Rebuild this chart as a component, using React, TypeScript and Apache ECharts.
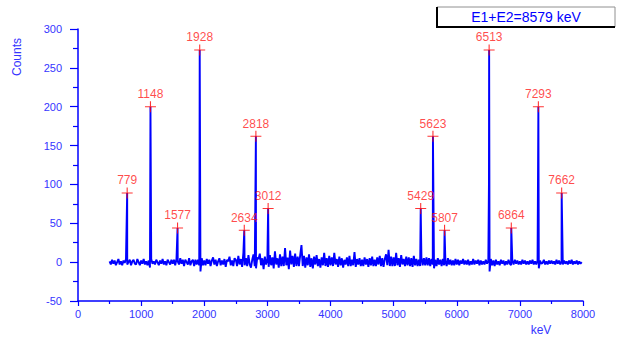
import React, { useEffect, useRef } from "react";
import * as echarts from "echarts";

// Spectrum baseline (noise), sampled every 20 keV starting at 500 keV
const noiseStart = 500;
const noiseStep = 20;
const noiseLow = [
  1, -3, 3, -2, 2, -4, 0, 4, -3, 1, -4, 2, -1, 4, -3, 0, 3, -4, 1, 3, -2, -3, 4, 0, -4,
  2, -2, 4, -3, 1, -4, 2, -7, 4, -2, 1, -3, 3, 0, -4, 2, -2, 4, -3, 1, -4, 3, 0, -3, 3,
  -2, 3, -4, 4, 1, -3, 5, -2, 3, -5, 3, 0, -3, 5, -4, 1, 3, -5, 3, -3, 3, -4, -12, 5, -4,
  2, -4, 4, -2, 3, -5, 2, 6, -3, 3, -5, 1, 5, -4, 2, -3, 4, -6, 3, 1, 7, -4, 2, -5, 5,
  3, -5, 8, -3, 4, -6, 12, -4, 5, -5, 9, -3, -7, 3, 10, -5, -8, 6, 4, 11, -4, 5, -9, 7, -3,
];
const noiseMid = [
  4, -6, 9, -4, 6, -8, 14, -3, 5, -7, 10, -5, 7, -5, 18, -4, 6, -9, 15, -3, 8, -6, 11, -5, 7,
  -5, 9, 22, -5, 8, -7, 6, -4, 10, -6, 5, -8, 7, -3, 9, -5, 4, -7, 6, -4, 12, -5, 5, -6, 8,
  -4, 6, -5, 12, -3, 4, -6, 7, -4, 5, -7, 3, -3, 6, -5, 8, -5, 3, -4, 13, -6, 4, -3, 5, -5,
  3, -5, 6, -3, 4, -6, 5, -4, 7, -5, 3, -5, 6, -3, 8, -5, 5, -6, 4, 10, -4, 16, -5, 7, -5,
  6, -5, 12, -4, 5, -6, 9, -3, 4, -5, 7, -4, 6, -5, 5, -6, 8, -4, 4, -5, 3, -5, 6, -4, 5,
];
const noiseHigh = [
  -4, 6, -4, 5, -5, 4, -3, -8, 3, -5, 5, -3, 3, -5, 4, -4, 2, -5, 5, -3, 3, -4, 2, -4, 4,
  -3, 3, -4, 2, -2, 4, -3, 2, -3, 3, -4, 1, -3, 4, -3, 2, -2, 3, -4, 2, -3, 1, -3, 3, -2,
  2, -12, 4, -4, 2, -5, 3, -3, 1, -4, 3, -2, 2, -4, 1, -3, 3, -2, -4, 2, -3, 3, -2, 2, -3,
  1, -3, 3, -2, 2, -3, 1, -3, 2, -2, 3, -3, 1, -3, 2, -8, 2, -2, -1, 3, -3, 1, -3, 2, -2,
  2, -2, 1, -3, 3, -2, 2, -3, 1, -3, 2, -2, 1, -3, 2, -2, 3, -3, 1, -2, 2, -3, 1, -2, 0,
];

// Labelled peaks
const peakEnergies = [779, 1148, 1577, 1928, 2634, 2818, 3012, 5429, 5623, 5807, 6513, 6864, 7293, 7662];
const peakCounts = [89, 200, 44, 273, 41, 162, 69, 69, 162, 41, 273, 44, 200, 89];

// Shoulders next to the two strongest peaks
const shoulderEnergies = [1925, 6510];
const shoulderCounts = [100, 100];

const yTicks = { min: -50, max: 300, interval: 50 };
const xTicks = { min: 0, max: 8000, interval: 1000 };

const legendText = "E1+E2=8579 keV";
const yName = "Counts";
const xName = "keV";

export default function App() {
  const ref = useRef<HTMLDivElement>(null);
  useEffect(() => {
    document.body.style.margin = "0";
    if (!ref.current) return;
    const chart = echarts.init(ref.current, undefined, { renderer: "svg" });
    const noise = [...noiseLow, ...noiseMid, ...noiseHigh];
    const base = noise.map((v, i) => [noiseStart + i * noiseStep, v]);
    const spikes = peakEnergies.map((e, i) => [e, peakCounts[i]]);
    const shoulders = shoulderEnergies.map((e, i) => [e, shoulderCounts[i]]);
    const spectrum = [...base, ...spikes, ...shoulders].sort((a, b) => a[0] - b[0]);
    const blue = "#0000ff";
    const labelBlue = "#3535ff";
    const font = "Liberation Sans";

    chart.setOption({
      animation: false,
      grid: { left: 78, right: 35, top: 29, bottom: 40 },
      xAxis: {
        type: "value",
        min: xTicks.min,
        max: xTicks.max,
        interval: xTicks.interval,
        axisLine: { show: true, onZero: false, lineStyle: { color: blue, width: 1.5 } },
        axisTick: { show: true, length: 5, lineStyle: { color: blue, width: 1.2 } },
        minorTick: { show: true, splitNumber: 2, length: 3, lineStyle: { color: blue, width: 1.2 } },
        axisLabel: {
          color: labelBlue,
          fontSize: 11,
          fontFamily: font,
          margin: 7,
          formatter: (v: number) => String(v),
        },
        splitLine: { show: false },
      },
      yAxis: {
        type: "value",
        min: yTicks.min,
        max: yTicks.max,
        interval: yTicks.interval,
        axisLine: { show: true, onZero: false, lineStyle: { color: blue, width: 1.5 } },
        axisTick: { show: true, length: 8, lineStyle: { color: blue, width: 1.2 } },
        minorTick: { show: true, splitNumber: 2, length: 5, lineStyle: { color: blue, width: 1.2 } },
        axisLabel: {
          color: labelBlue,
          fontSize: 11,
          fontFamily: font,
          margin: 16,
          formatter: (v: number) => String(v),
        },
        splitLine: { show: false },
      },
      series: [
        {
          type: "line",
          data: spectrum,
          showSymbol: false,
          symbol: "none",
          lineStyle: { color: blue, width: 1.9 },
          z: 2,
        },
        {
          type: "scatter",
          data: peakEnergies.map((e, i) => ({ name: String(e), value: [e, peakCounts[i]] })),
          symbol: "path://M4.5,0h1v4.5h4.5v1h-4.5v4.5h-1v-4.5h-4.5v-1h4.5z",
          symbolSize: 11,
          itemStyle: { color: "#ff0000" },
          label: {
            show: true,
            position: "top",
            distance: 1,
            formatter: (p: any) => p.name,
            color: "#ff1a1a",
            fontSize: 12,
            fontFamily: font,
          },
          z: 3,
        },
      ],
      graphic: [
        {
          type: "rect",
          shape: { x: 437, y: 7, width: 178, height: 20 },
          style: { fill: "#ffffff", stroke: "#909090", lineWidth: 1 },
        },
        {
          type: "polyline",
          shape: { points: [[437, 7], [437, 27], [615, 27]] },
          style: { stroke: "#000000", lineWidth: 2, fill: "none" },
        },
        {
          type: "text",
          x: 526,
          y: 17,
          style: {
            text: legendText,
            fill: blue,
            fontSize: 14,
            fontFamily: font,
            align: "center",
            verticalAlign: "middle",
          },
        },
        {
          type: "text",
          x: 17,
          y: 57,
          rotation: Math.PI / 2,
          style: {
            text: yName,
            fill: labelBlue,
            fontSize: 12,
            fontFamily: font,
            align: "center",
            verticalAlign: "middle",
          },
        },
        {
          type: "text",
          x: 541,
          y: 330,
          style: {
            text: xName,
            fill: labelBlue,
            fontSize: 12,
            fontFamily: font,
            align: "center",
            verticalAlign: "middle",
          },
        },
      ],
    });
    return () => chart.dispose();
  }, []);
  return <div ref={ref} style={{ width: 618, height: 341 }} />;
}
